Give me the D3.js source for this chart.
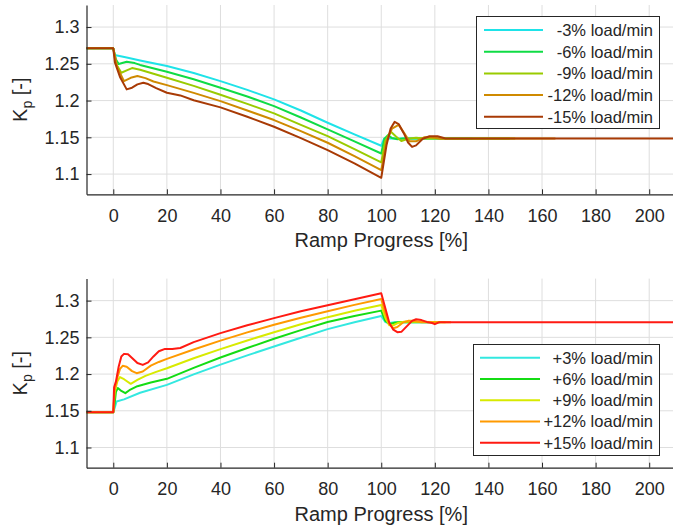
<!DOCTYPE html>
<html>
<head>
<meta charset="utf-8">
<script src="https://cdn.jsdelivr.net/npm/d3@7"></script>
<style>
  html, body { margin: 0; padding: 0; background: #fff; }
  svg { display: block; }
  text { font-family: "Liberation Sans", Arial, Helvetica, sans-serif; fill: #262626; }
</style>
</head>
<body>
<svg id="chart" width="673" height="525"></svg>
<script>
// ---- data: Kp versus ramp progress, load-decrease ramps ----
const down3 = [[-10,1.271],[0,1.271],[0.5,1.262],[5,1.2585],[10,1.2545],[20,1.247],[30,1.2375],[40,1.2265],[50,1.2145],[60,1.2016],[70,1.1865],[80,1.1698],[90,1.154],[100,1.1385],[101,1.148],[102,1.149],[103,1.1485],[134,1.1485]];
const down6 = [[-10,1.271],[0,1.271],[1,1.256],[2,1.2497],[5,1.2528],[8,1.251],[10,1.2485],[20,1.2392],[30,1.229],[40,1.2174],[50,1.2055],[60,1.1925],[70,1.177],[80,1.1608],[90,1.1445],[100,1.128],[101.2,1.148],[102.5,1.153],[104,1.149],[106,1.1475],[108,1.1485],[148,1.1485]];
const down9 = [[-10,1.271],[0,1.271],[1,1.25],[3,1.2378],[5,1.241],[7,1.2442],[10,1.242],[15,1.2365],[20,1.231],[30,1.22],[40,1.208],[50,1.1955],[60,1.1826],[70,1.167],[80,1.1517],[90,1.134],[100,1.116],[101.5,1.145],[103.5,1.158],[105.5,1.151],[107.5,1.145],[110,1.148],[113,1.1495],[116,1.1485],[150,1.1485]];
const down12 = [[-10,1.271],[0,1.271],[1.5,1.245],[4,1.2265],[6.5,1.231],[9,1.2333],[12,1.2305],[15,1.226],[20,1.221],[30,1.2105],[40,1.1993],[50,1.1865],[60,1.1735],[70,1.1585],[80,1.1426],[90,1.1245],[100,1.1054],[102,1.145],[104,1.162],[106.5,1.167],[108.5,1.156],[110.5,1.1445],[113,1.1445],[116,1.15],[119,1.15],[122,1.148],[165,1.1485]];
const down15 = [[-10,1.271],[0,1.271],[0.6,1.252],[2.5,1.232],[5,1.2152],[7,1.2175],[9,1.222],[11.2,1.2242],[13,1.2225],[16,1.217],[20,1.2106],[25,1.207],[30,1.2005],[40,1.1907],[50,1.178],[60,1.1644],[70,1.149],[80,1.1327],[90,1.1145],[100,1.095],[102,1.14],[103.5,1.162],[105,1.171],[106.5,1.168],[108.5,1.155],[110,1.143],[111.5,1.137],[113,1.139],[115.5,1.148],[118,1.1515],[121,1.1515],[124,1.1485],[210,1.1485]];

// ---- data: Kp versus ramp progress, load-increase ramps ----
const up3 = [[-10,1.148],[0,1.148],[0.6,1.155],[1.2,1.1626],[4,1.1655],[10,1.1745],[20,1.1853],[30,1.1995],[40,1.2128],[50,1.2255],[60,1.2375],[70,1.2495],[80,1.2612],[90,1.2705],[100,1.2792],[101.5,1.271],[103,1.2695],[105,1.2705],[118,1.2705]];
const up6 = [[-10,1.148],[0,1.148],[0.5,1.16],[1,1.176],[1.7,1.181],[3,1.177],[4.5,1.174],[6,1.178],[9,1.1835],[14,1.1885],[20,1.1935],[30,1.2085],[40,1.2225],[50,1.2355],[60,1.248],[70,1.2598],[80,1.2708],[90,1.2792],[100,1.2864],[101.5,1.2725],[103,1.268],[105,1.27],[107,1.271],[122,1.2705]];
const up9 = [[-10,1.148],[0,1.148],[0.5,1.175],[1.5,1.19],[2.5,1.196],[4,1.193],[6.5,1.1867],[9,1.192],[12,1.1975],[16,1.203],[20,1.208],[30,1.2215],[40,1.234],[50,1.2458],[60,1.257],[70,1.2678],[80,1.2775],[90,1.2862],[100,1.294],[101.5,1.277],[103,1.2665],[104.5,1.2665],[106.5,1.27],[109,1.2715],[124,1.2705]];
const up12 = [[-10,1.148],[0,1.148],[0.4,1.175],[1.5,1.195],[2.5,1.207],[3.5,1.2112],[5,1.21],[7,1.204],[8.7,1.2012],[11,1.2035],[14,1.2115],[17,1.2165],[20,1.2207],[30,1.2335],[40,1.2455],[50,1.2568],[60,1.2672],[70,1.2768],[80,1.2855],[90,1.2942],[100,1.3023],[101.5,1.283],[103,1.268],[104.5,1.2625],[106,1.264],[108,1.27],[110,1.2725],[112,1.2725],[115,1.2705],[126,1.2705]];
const up15 = [[-10,1.148],[0,1.148],[0.3,1.182],[1,1.19],[2,1.21],[3,1.224],[4,1.2275],[5.5,1.227],[7,1.222],[9,1.215],[11,1.2125],[13,1.216],[15,1.224],[17,1.231],[19.3,1.2343],[22,1.234],[25,1.2355],[30,1.2435],[40,1.2558],[50,1.2665],[60,1.2762],[70,1.2855],[80,1.2938],[90,1.302],[100,1.31],[101.5,1.29],[103,1.27],[104.5,1.2605],[106,1.257],[107.5,1.2575],[109.5,1.265],[111.5,1.2725],[113,1.2747],[115,1.2735],[117,1.271],[119,1.2695],[120,1.268],[121.5,1.2705],[210,1.2705]];

const downLabels = ["-3% load/min", "-6% load/min", "-9% load/min", "-12% load/min", "-15% load/min"];
const upLabels = ["+3% load/min", "+6% load/min", "+9% load/min", "+12% load/min", "+15% load/min"];
const downColors = ["#1ee3e8", "#0fdc45", "#9acb00", "#cf8a00", "#a83a05"];
const upColors = ["#33e8e0", "#14dc14", "#d8ea00", "#ff9a00", "#ff1a12"];

const xTicks = [0, 20, 40, 60, 80, 100, 120, 140, 160, 180, 200];
const yTicks = [1.1, 1.15, 1.2, 1.25, 1.3];
const xLabel = "Ramp Progress [%]";

// ---- drawing ----
const svg = d3.select("#chart");
const x = d3.scaleLinear().domain([-10, 210]).range([86.5, 676]);
const AXIS = "#262626";

function panel(top, bottom, series, labels, colors, legendBox) {
  const y = d3.scaleLinear().domain([1.0725, 1.33]).range([bottom, top]);
  const g = svg.append("g");

  // grid
  g.append("g").selectAll("line").data(xTicks).join("line")
    .attr("x1", d => x(d)).attr("x2", d => x(d))
    .attr("y1", top).attr("y2", bottom)
    .attr("stroke", "#dedede").attr("stroke-width", 1);
  g.append("g").selectAll("line").data(yTicks).join("line")
    .attr("x1", x.range()[0]).attr("x2", x.range()[1])
    .attr("y1", d => y(d)).attr("y2", d => y(d))
    .attr("stroke", "#dedede").attr("stroke-width", 1);

  // series
  const line = d3.line().x(d => x(d[0])).y(d => y(d[1])).curve(d3.curveLinear);
  g.append("g").selectAll("path").data(series).join("path")
    .attr("d", line)
    .attr("fill", "none")
    .attr("stroke", (d, i) => colors[i])
    .attr("stroke-width", 2)
    .attr("stroke-linejoin", "round");

  // axes
  const ax = g.append("g").attr("transform", `translate(0,${bottom})`)
    .call(d3.axisBottom(x).tickValues(xTicks).tickSizeInner(-5).tickSizeOuter(0).tickPadding(15).tickFormat(d3.format("d")));
  const ay = g.append("g").attr("transform", `translate(${x.range()[0]},0)`)
    .call(d3.axisLeft(y).tickValues(yTicks).tickSizeInner(-5).tickSizeOuter(0).tickPadding(7).tickFormat(d => String(d)));
  [ax, ay].forEach(a => {
    a.select(".domain").attr("stroke", AXIS).attr("stroke-width", 1.2);
    a.selectAll(".tick line").attr("stroke", AXIS);
    a.selectAll(".tick text").attr("fill", AXIS).style("font-size", "18px")
      .style("font-family", "'Liberation Sans', Arial, sans-serif");
  });

  // axis titles
  g.append("text")
    .attr("x", (x.range()[0] + x.range()[1]) / 2).attr("y", bottom + 53)
    .attr("text-anchor", "middle").style("font-size", "20px").text(xLabel);
  const yl = g.append("text")
    .attr("transform", `translate(27,${(top + bottom) / 2}) rotate(-90)`)
    .attr("text-anchor", "middle").style("font-size", "20px");
  yl.append("tspan").text("K");
  yl.append("tspan").attr("dy", 5).style("font-size", "14px").text("p");
  yl.append("tspan").attr("dy", -5).text(" [-]");

  // legend
  const lg = g.append("g");
  lg.append("rect")
    .attr("x", legendBox.x0).attr("y", legendBox.y0)
    .attr("width", legendBox.x1 - legendBox.x0).attr("height", legendBox.y1 - legendBox.y0)
    .attr("fill", "#fff").attr("stroke", AXIS).attr("stroke-width", 1);
  labels.forEach((lab, i) => {
    const cy = legendBox.row0 + i * legendBox.step;
    lg.append("line")
      .attr("x1", legendBox.lx0).attr("x2", legendBox.lx1)
      .attr("y1", cy).attr("y2", cy)
      .attr("stroke", colors[i]).attr("stroke-width", 2);
    lg.append("text")
      .attr("x", legendBox.tx).attr("y", cy).attr("dy", "0.36em")
      .attr("text-anchor", "end").style("font-size", "16.5px").text(lab);
  });
}

panel(5, 194.3, [down3, down6, down9, down12, down15], downLabels, downColors,
  { x0: 476.5, x1: 659.5, y0: 16.5, y1: 128.5, row0: 30, step: 21.7, lx0: 484, lx1: 543, tx: 653 });
panel(278.6, 467.7, [up3, up6, up9, up12, up15], upLabels, upColors,
  { x0: 473.5, x1: 659.5, y0: 344.5, y1: 455.5, row0: 357.7, step: 21.25, lx0: 480, lx1: 540, tx: 653 });
</script>
</body>
</html>
